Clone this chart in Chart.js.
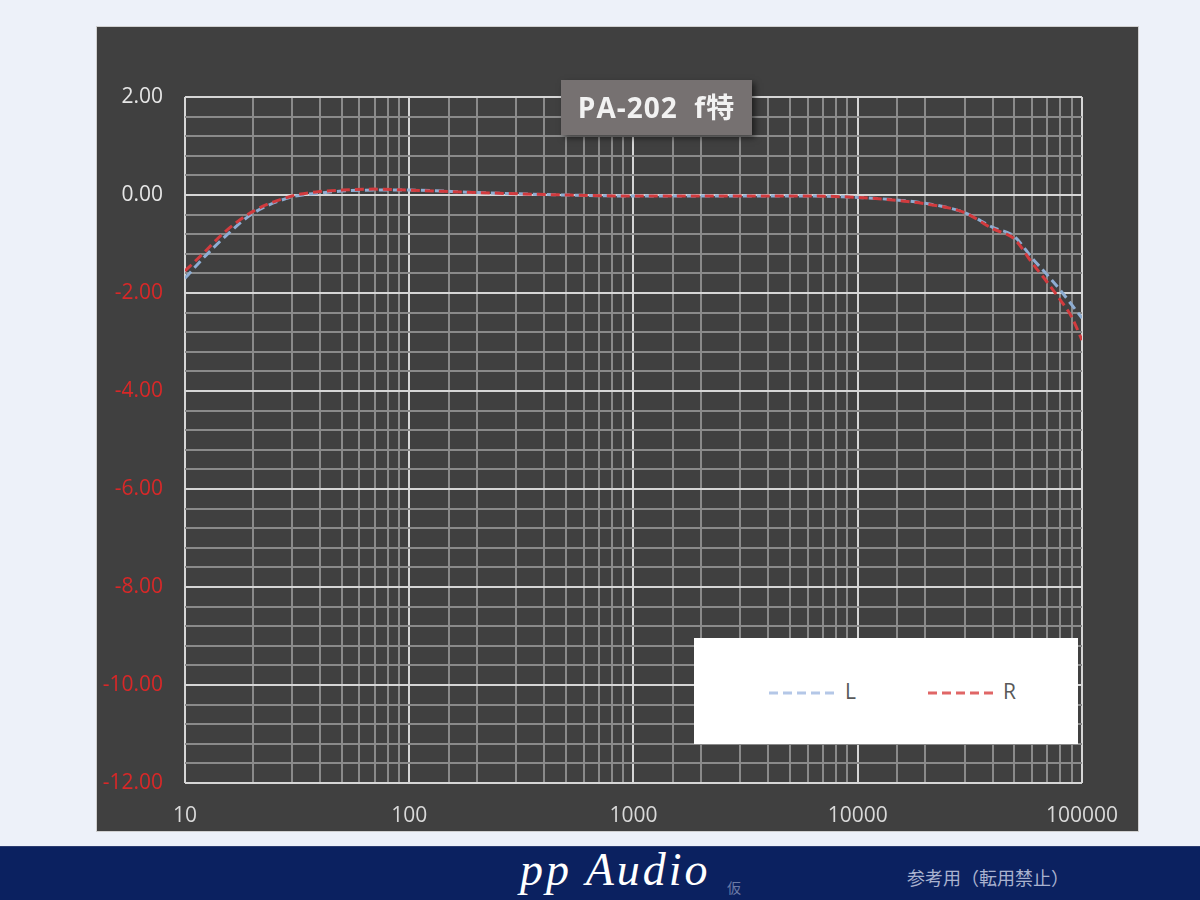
<!DOCTYPE html>
<html lang="ja">
<head>
  <meta charset="UTF-8">
  <title>PA-202 f特</title>
  <script src="https://cdn.jsdelivr.net/npm/chart.js"></script>
  <style>
    body {
      margin: 0;
      padding: 0;
      width: 1200px;
      height: 900px;
      background: #edf1f9;
      position: relative;
      overflow: hidden;
      font-family: "Open Sans", "Noto Sans CJK JP", sans-serif;
    }
    #box {
      position: absolute;
      left: 96px;
      top: 26px;
      width: 1041px;
      height: 804px;
      border: 1px solid #d0d0d0;
    }
    #graph {
      display: block;
    }
    #title {
      position: absolute;
      left: 561px;
      top: 80px;
      width: 191px;
      height: 55px;
      background: #767171;
      box-shadow: 3px 3px 6px rgba(0, 0, 0, 0.55);
      color: #f2f2f2;
      font: bold 28px "Open Sans", "Noto Sans CJK JP", sans-serif;
      letter-spacing: 1px;
      line-height: 55px;
      text-align: center;
      white-space: pre;
    }
    #legend {
      position: absolute;
      left: 694px;
      top: 638px;
      width: 384px;
      height: 106px;
      background: #ffffff;
      color: #595959;
      font-size: 21px;
    }
    #legend svg { position: absolute; }
    #legend span { position: absolute; top: 39px; }
    #footer {
      position: absolute;
      left: 0;
      top: 846px;
      width: 1200px;
      height: 54px;
      background: #0b2160;
      border-top: 1px solid #2b3c70;
    }
    #logo {
      position: absolute;
      left: 520px;
      top: -4px;
      color: #ffffff;
      font: italic 46px "Liberation Serif", "DejaVu Serif", serif;
      letter-spacing: 3px;
    }
    #kari {
      position: absolute;
      left: 727px;
      top: 30px;
      color: #6b7aa6;
      font: 14px "Noto Sans CJK JP", sans-serif;
    }
    #note {
      position: absolute;
      left: 907px;
      top: 17px;
      color: #a9b2cf;
      font: 18px "Noto Sans CJK JP", sans-serif;
    }
  </style>
</head>
<body>
  <div id="box"><canvas id="graph" width="1041" height="804"></canvas></div>
  <div id="title">PA-202  f特</div>
  <div id="legend">
    <svg style="left:75px; top:52px" width="70" height="6"><line x1="0" y1="3" x2="67" y2="3" stroke="#b4c7e7" stroke-width="3" stroke-dasharray="9,5"/></svg>
    <span style="left:151px">L</span>
    <svg style="left:234px; top:52px" width="70" height="6"><line x1="0" y1="3" x2="67" y2="3" stroke="#e06666" stroke-width="3" stroke-dasharray="9,5"/></svg>
    <span style="left:309px">R</span>
  </div>
  <div id="footer">
    <span id="logo">pp Audio</span>
    <span id="kari">仮</span>
    <span id="note">参考用（転用禁止）</span>
  </div>

  <script>
    // 周波数 (Hz)
    const freq = [10, 12, 15, 20, 30, 40, 50, 70, 100, 200, 500, 1000, 2000, 5000,
                  10000, 20000, 30000, 40000, 50000, 60000, 70000, 80000, 90000, 100000];
    // レベル (dB)
    const levelL = [-1.70, -1.30, -0.86, -0.38, -0.04, 0.04, 0.08, 0.10, 0.10, 0.05, 0.00, -0.02, -0.02, -0.02,
                    -0.05, -0.17, -0.36, -0.66, -0.85, -1.29, -1.63, -1.94, -2.24, -2.51];
    const levelR = [-1.55, -1.20, -0.76, -0.34, -0.02, 0.07, 0.10, 0.12, 0.10, 0.05, 0.00, -0.02, -0.02, -0.02,
                    -0.05, -0.18, -0.36, -0.69, -0.90, -1.39, -1.78, -2.14, -2.49, -2.96];
    const yMin = -12;
    const yMax = 2;
    const yLabelStep = 2;

    const isPow10 = v => Math.abs(Math.log10(v) - Math.round(Math.log10(v))) < 1e-9;
    const isYMajor = v => Math.abs(v / yLabelStep - Math.round(v / yLabelStep)) < 1e-6;

    const bgPlugin = {
      id: 'bg',
      beforeDraw(chart) {
        const c = chart.ctx;
        c.save();
        c.fillStyle = '#404040';
        c.fillRect(0, 0, chart.width, chart.height);
        c.restore();
      }
    };

    const ctx = document.getElementById('graph').getContext('2d');
    const chart = new Chart(ctx, {
      type: 'line',
      data: {
        datasets: [{
          label: 'L',
          data: freq.map((f, i) => ({ x: f, y: levelL[i] })),
          borderColor: '#8eadd2',
          borderWidth: 3,
          borderDash: [9, 5],
          pointRadius: 0,
          cubicInterpolationMode: 'monotone',
          fill: false,
          order: 2
        }, {
          label: 'R',
          data: freq.map((f, i) => ({ x: f, y: levelR[i] })),
          borderColor: '#d23b3e',
          borderWidth: 3,
          borderDash: [9, 5],
          pointRadius: 0,
          cubicInterpolationMode: 'monotone',
          fill: false,
          order: 1
        }]
      },
      options: {
        responsive: false,
        animation: false,
        layout: { padding: { top: 70, right: 54, left: 0, bottom: 0 } },
        plugins: {
          legend: { display: false },
          tooltip: { enabled: false },
          title: { display: false }
        },
        scales: {
          x: {
            type: 'logarithmic',
            min: 10,
            max: 100000,
            afterFit(scale) { scale.height = 48; },
            border: { display: false },
            grid: {
              drawTicks: false,
              color: c => (c.tick && isPow10(c.tick.value)) ? '#d6d6d6' : '#8a8a8a',
              lineWidth: 2
            },
            ticks: {
              autoSkip: false,
              maxRotation: 0,
              padding: 20,
              color: '#d9d9d9',
              font: { family: 'Open Sans', size: 21 },
              callback: v => isPow10(v) ? String(Math.round(v)) : ''
            }
          },
          y: {
            min: yMin,
            max: yMax,
            afterFit(scale) { scale.width = 88; },
            border: { display: false },
            grid: {
              drawTicks: false,
              color: c => (c.tick && isYMajor(c.tick.value)) ? '#d6d6d6' : '#8a8a8a',
              lineWidth: 2
            },
            ticks: {
              stepSize: 0.4,
              autoSkip: false,
              padding: 22,
              color: c => (c.tick && c.tick.value < 0) ? '#d82828' : '#e6e6e6',
              font: { family: 'Open Sans', size: 21 },
              callback: v => isYMajor(v) ? Number(v).toFixed(2) : ''
            }
          }
        }
      },
      plugins: [bgPlugin]
    });
  </script>
</body>
</html>
